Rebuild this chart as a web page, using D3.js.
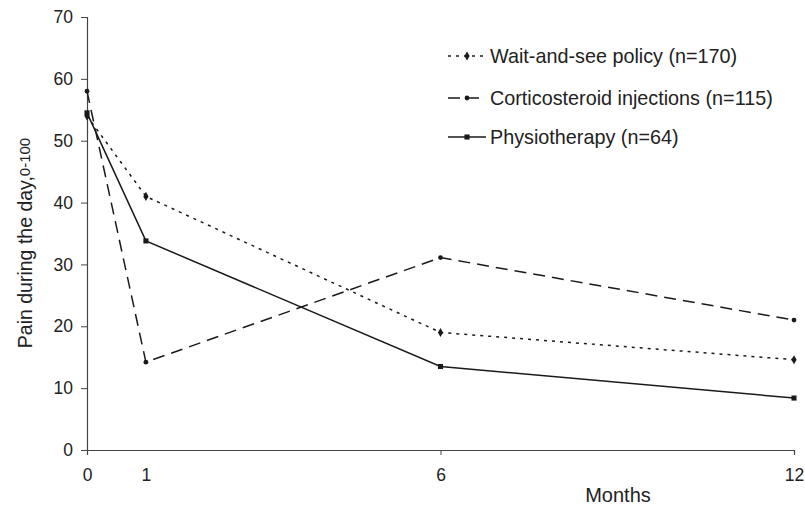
<!DOCTYPE html>
<html><head><meta charset="utf-8">
<script src="https://cdn.jsdelivr.net/npm/d3@7"></script>
<style>body{margin:0;background:#fff}text{font-family:"Liberation Sans",Arial,sans-serif;fill:#222}</style>
</head><body><svg id="c" width="805" height="506"></svg>
<script>
const months = [0, 1, 6, 12];
const waitSee = [54, 41, 19, 14.6];
const cortico = [58, 14.2, 31.1, 21];
const physio = [54.5, 33.8, 13.5, 8.4];
const yTicks = [0, 10, 20, 30, 40, 50, 60, 70];
const seriesNames = ["Wait-and-see policy (n=170)", "Corticosteroid injections (n=115)", "Physiotherapy (n=64)"];

const svg = d3.select("#c");
const x = d3.scaleLinear().domain([0, 12]).range([87, 794]);
const y = d3.scaleLinear().domain([0, 70]).range([450, 17]);

// axes
const ya = svg.append("g").attr("transform", "translate(87,0)")
  .call(d3.axisLeft(y).tickValues(yTicks).tickSize(6).tickPadding(8));
const xa = svg.append("g").attr("transform", "translate(0,450)")
  .call(d3.axisBottom(x).tickValues(months).tickSize(5).tickPadding(14));
[ya, xa].forEach(a => {
  a.attr("font-size", null).attr("font-family", null);
  a.select(".domain").attr("stroke", "#444").attr("stroke-width", 1.2);
  a.selectAll(".tick line").attr("stroke", "#444");
  a.selectAll("text").style("font-size", "17.5px").attr("fill", "#222");
});
xa.selectAll(".tick").filter(d => d === 1).select("line").remove();

svg.append("text").attr("x", 618).attr("y", 502).attr("text-anchor", "middle").style("font-size", "20px").text("Months");
const yl = svg.append("text").attr("transform", "translate(32,243) rotate(-90)").attr("text-anchor", "middle").style("font-size", "19.5px");
yl.append("tspan").text("Pain during the day,");
yl.append("tspan").style("font-size", "15px").attr("dy", "-2").text("0-100");

const series = [
  {vals: waitSee, dash: "3,5", marker: "diamond"},
  {vals: cortico, dash: "12,7", marker: "circle"},
  {vals: physio, dash: null, marker: "square"}
];
const line = d3.line().x((d, i) => x(months[i])).y(d => y(d));
const symType = {diamond: d3.symbolDiamond, circle: d3.symbolCircle, square: d3.symbolSquare};
const symSize = {diamond: 24, circle: 18, square: 26};

series.forEach((s, k) => {
  svg.append("path").datum(s.vals).attr("d", line).attr("fill", "none")
    .attr("stroke", "#1a1a1a").attr("stroke-width", 1.5)
    .attr("stroke-dasharray", s.dash);
  svg.selectAll(null).data(s.vals).enter().append("path")
    .attr("d", d3.symbol().type(symType[s.marker]).size(symSize[s.marker]))
    .attr("transform", (d, i) => `translate(${x(months[i])},${y(d)})`)
    .attr("fill", "#1a1a1a");
  // legend
  const ly = [56, 98, 137][k];
  svg.append("line").attr("x1", 448).attr("x2", 486).attr("y1", ly).attr("y2", ly)
    .attr("stroke", "#1a1a1a").attr("stroke-width", 1.5).attr("stroke-dasharray", s.dash);
  svg.append("path").attr("d", d3.symbol().type(symType[s.marker]).size(symSize[s.marker]))
    .attr("transform", `translate(467,${ly})`).attr("fill", "#1a1a1a");
  svg.append("text").attr("x", 490).attr("y", ly).attr("dy", "0.35em").style("font-size", "19.8px").text(seriesNames[k]);
});
</script></body></html>
